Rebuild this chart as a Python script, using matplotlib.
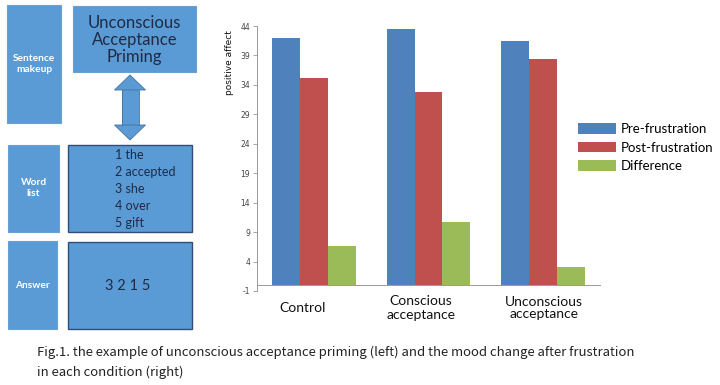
import matplotlib
matplotlib.use("Agg")
import matplotlib.pyplot as plt
from matplotlib.patches import Rectangle, Polygon
import matplotlib.transforms as mtransforms
import numpy as np

plt.rcParams["axes.unicode_minus"] = False

# ---- data ----
categories = ["Control", "Conscious\nacceptance", "Unconscious\nacceptance"]
series_names = ["Pre-frustration", "Post-frustration", "Difference"]
pre_frustration = [41.9, 43.5, 41.4]
post_frustration = [35.2, 32.8, 38.4]
difference = [6.7, 10.7, 3.0]
y_ticks = [-1, 4, 9, 14, 19, 24, 29, 34, 39, 44]
word_list = ["1 the", "2 accepted", "3 she", "4 over", "5 gift"]
answer = "3 2 1 5"
caption_lines = ["Fig.1. the example of unconscious acceptance priming (left) and the mood change after frustration",
                 "in each condition (right)"]

colors = ["#4F81BD", "#C0504D", "#9BBB59"]
box_fill = "#5B9BD5"
box_edge = "#41719C"
text_dark = "#1F2A44"
FONT = ["Lato", "DejaVu Sans"]

W, H = 720, 385
fig = plt.figure(figsize=(W / 100, H / 100), dpi=100)

# ---- left diagram (pixel coordinate overlay) ----
dax = fig.add_axes([0, 0, 1, 1])
dax.set_xlim(0, W)
dax.set_ylim(H, 0)
dax.axis("off")

def box(x0, y0, x1, y1, lw=1.0, ec=box_edge):
    dax.add_patch(Rectangle((x0, y0), x1 - x0, y1 - y0, facecolor=box_fill,
                            edgecolor=ec, linewidth=lw))

box(7, 5, 61, 123, lw=0.8, ec="#6A9FD0")
box(73, 6, 196, 72, lw=0.8, ec="#6A9FD0")
box(8, 145, 59, 232, lw=0.8, ec="#6A9FD0")
box(68, 145, 192, 232, lw=1.0, ec="#2F4F7A")
box(8, 241, 57, 329, lw=0.8, ec="#6A9FD0")
box(68, 242, 192, 329, lw=1.0, ec="#2F4F7A")

lab_kw = dict(color="white", fontsize=7.3, fontweight="bold", ha="center", va="center",
              linespacing=1.3, family=FONT)
dax.text(34, 64, "Sentence\nmakeup", **lab_kw)
dax.text(33.5, 188, "Word\nlist", **lab_kw)
dax.text(32.5, 285, "Answer", **lab_kw)

dax.text(134.5, 40, "Unconscious\nAcceptance\nPriming", color=text_dark, fontsize=12,
         ha="center", va="center", linespacing=1.05, family=FONT)

for i, w in enumerate(word_list):
    dax.text(115, 155 + i * 17, w, color=text_dark, fontsize=9, ha="left", va="center",
             family=FONT)
dax.text(128, 286, answer, color=text_dark, fontsize=10.5, ha="center", va="center",
         family=FONT)

# double arrow
ax_c, top, bot = 130, 75, 140
shaft_w, head_w, head_l = 17, 31, 15
dax.add_patch(Rectangle((ax_c - shaft_w / 2, top + head_l - 1), shaft_w,
                        bot - top - 2 * head_l + 2, facecolor=box_fill, edgecolor="none"))
dax.add_patch(Polygon([[ax_c - head_w / 2, top + head_l], [ax_c, top], [ax_c + head_w / 2, top + head_l]],
                      closed=True, facecolor=box_fill, edgecolor=box_edge, linewidth=0.6))
dax.add_patch(Polygon([[ax_c - head_w / 2, bot - head_l], [ax_c, bot], [ax_c + head_w / 2, bot - head_l]],
                      closed=True, facecolor=box_fill, edgecolor=box_edge, linewidth=0.6))
dax.plot([ax_c - shaft_w / 2] * 2, [top + head_l, bot - head_l], color=box_edge, lw=0.6)
dax.plot([ax_c + shaft_w / 2] * 2, [top + head_l, bot - head_l], color=box_edge, lw=0.6)

# caption
for i, line in enumerate(caption_lines):
    dax.text(37, 352 + 20 * i, line, fontsize=9.45, color="#222222", ha="left", va="center",
             family=["Noto Sans CJK SC", "DejaVu Sans"])

# ---- bar chart ----
x0p, x1p = 257, 600
ytop, ybot = 26, 291
ax = fig.add_axes([x0p / W, 1 - ybot / H, (x1p - x0p) / W, (ybot - ytop) / H])
ax.patch.set_alpha(0)
x = np.arange(len(categories))
bw = 0.243
for k, (vals, c, name) in enumerate(zip([pre_frustration, post_frustration, difference], colors, series_names)):
    ax.bar(x + (k - 1) * bw, vals, width=bw, color=c, label=name, zorder=2)

ax.set_xlim(-0.5, len(categories) - 0.5)
ax.set_ylim(y_ticks[0], y_ticks[-1])
ax.set_yticks(y_ticks)
ax.tick_params(axis="y", labelsize=5.5, labelcolor="#444444", color="#999999",
               length=3, width=0.6, pad=2)
ax.set_xticks([])
for s in ["top", "right"]:
    ax.spines[s].set_visible(False)
ax.spines["left"].set_color("#999999")
ax.spines["left"].set_linewidth(0.7)
ax.spines["bottom"].set_position(("data", 0))
ax.spines["bottom"].set_color("#999999")
ax.spines["bottom"].set_linewidth(0.7)

trans = mtransforms.blended_transform_factory(ax.transData, fig.transFigure)
label_dx = [-0.105, -0.065, 0.01]
label_ls = [1.0, 1.2, 0.9]
for i, cat in enumerate(categories):
    ax.text(x[i] + label_dx[i], 1 - 308 / H, cat, transform=trans, ha="center", va="center",
            fontsize=10, color="#111111", linespacing=label_ls[i], family=FONT)

fig.text(230 / W, 1 - 63 / H, "positive affect", rotation=90, fontsize=6.5,
         ha="center", va="center", color="#111111")

leg = ax.legend(loc="upper left", bbox_to_anchor=(578 / W, 1 - 123 / H),
                bbox_transform=fig.transFigure, frameon=False,
                prop={"size": 9.5, "family": FONT},
                handlelength=2.9, handleheight=0.85, labelspacing=0.5,
                handletextpad=0.35, borderpad=0, borderaxespad=0)

fig.savefig("out.png", dpi=100)
